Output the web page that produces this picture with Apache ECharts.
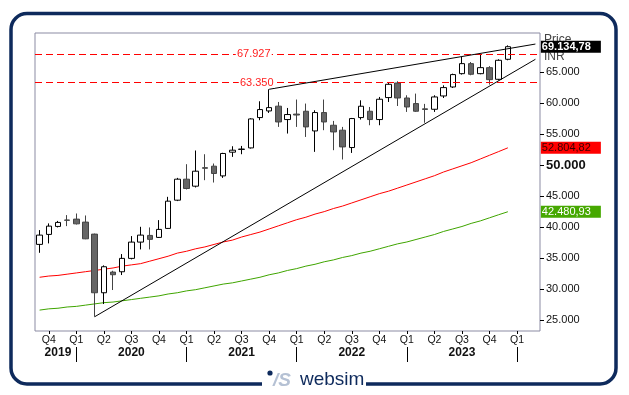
<!DOCTYPE html>
<html><head><meta charset="utf-8">
<script src="https://cdn.jsdelivr.net/npm/echarts@6/dist/echarts.min.js"></script>
<style>html,body{margin:0;padding:0;background:#fff}#c{width:629px;height:395px}</style>
</head><body><div id="c"></div>
<script>
const months = [
 '2019-09','2019-10','2019-11','2019-12',
 '2020-01','2020-02','2020-03','2020-04','2020-05','2020-06','2020-07','2020-08','2020-09','2020-10','2020-11','2020-12',
 '2021-01','2021-02','2021-03','2021-04','2021-05','2021-06','2021-07','2021-08','2021-09','2021-10','2021-11','2021-12',
 '2022-01','2022-02','2022-03','2022-04','2022-05','2022-06','2022-07','2022-08','2022-09','2022-10','2022-11','2022-12',
 '2023-01','2023-02','2023-03','2023-04','2023-05','2023-06','2023-07','2023-08','2023-09','2023-10','2023-11','2023-12',
 '2024-01','2024-02','2024-03'
];
const opens  = [37210,38820,40110,41150,41290,40810,38870,29400,32740,32790,34950,37580,38660,38340,39790,44350,47740,46610,49600,49840,48270,52100,52550,52790,57690,58760,59530,57370,58250,58710,55530,58500,56450,55650,52850,57690,58710,57370,60920,63270,60850,59950,59100,59030,61180,62630,64780,66400,64780,65750,63870,67100];
const closes = [38710,40160,40760,41100,40530,38110,29400,33600,32310,34950,37580,38710,38020,39630,44190,47740,46240,49030,49500,48660,51890,52420,52600,57470,58980,59300,56980,58180,58100,56180,58500,56980,55370,52950,57530,59520,57370,60650,63060,60850,59400,58710,59000,61020,62530,64630,66400,64680,65750,63810,66940,69134.78];
const lows   = [35850,37370,39950,40160,40420,38050,25530,27580,29840,32260,34790,36400,36400,38250,39700,44200,46080,46400,47580,47200,47950,51340,51770,52690,57260,58440,56180,55110,56180,54560,52150,55650,52420,50920,51980,57370,56450,56450,60210,59560,58600,58600,56850,58600,60850,62470,64630,64520,64680,63010,63710,66940];
const highs  = [39520,40600,41000,41940,42200,41880,38950,33820,32950,35650,38550,40050,39950,41130,44890,47950,50160,52370,51770,50270,52000,53060,53110,57580,60320,62260,60210,59240,60600,59950,58870,60600,57150,56180,57630,60480,59400,61020,63270,63550,61290,61560,59900,61290,62900,64780,67470,66660,67900,66000,67100,69350];
const maRed   = [31900,32100,32200,32400,32600,32800,33000,33200,33400,33700,33900,34100,34500,34900,35300,35800,36100,36500,36800,37200,37600,37900,38400,38800,39200,39700,40200,40700,41200,41600,42100,42500,43000,43400,43900,44400,44900,45400,45800,46300,46800,47300,47800,48300,48900,49400,49900,50400,51000,51600,52200,52804.82];
const maGreen = [26600,26800,26900,27100,27200,27400,27600,27800,27900,28100,28300,28500,28700,28900,29200,29400,29700,29900,30200,30500,30800,31000,31300,31600,31900,32300,32600,33000,33300,33700,34000,34400,34700,35100,35400,35800,36100,36500,36900,37300,37600,38000,38400,38800,39300,39700,40100,40600,41000,41500,42000,42480.93];
const yTicks = [25000,30000,35000,40000,45000,50000,55000,60000,65000];
const levels = [67927, 63350];
const levelLabelMonth = '2021-08';
const upperTrend = [['2021-10', 62260], ['2024-03', 69560]];
const lowerTrend = [['2020-03', 25530], ['2024-03', 67100]];
const yearLabelMonths = ['2019-11','2020-07','2021-07','2022-07','2023-07'];

const NAVY = '#0e2a5c';
const FONT = '"Liberation Sans", Arial, sans-serif';
function fmtInt(v){ return String(Math.round(v)).replace(/\B(?=(\d{3})+(?!\d))/g,'.'); }
function fmtDec(v){ const p = v.toFixed(2).split('.'); return fmtInt(+p[0]) + ',' + p[1]; }
function isQ(v){ const m = +v.slice(5); return m===1||m===4||m===7||m===10; }

const candles = opens.map((o,i)=>[o, closes[i], lows[i], highs[i]]);
const lastIdx = closes.length - 1;

function boxPoint(val, bg, fg){
  return {
    coord: [months[lastIdx], val],
    symbol: 'rect', symbolSize: [60, 12], symbolOffset: [63, 0],
    itemStyle: {color: bg},
    label: {show: true, position: 'insideLeft', distance: 1, formatter: fmtDec(val), color: fg, fontSize: 11, fontFamily: FONT, fontWeight: bg==='#000000'?'bold':'normal'}
  };
}
function levelPoint(val, dx){
  return {
    coord: [levelLabelMonth, val],
    symbol: 'rect', symbolSize: [36, 11], symbolOffset: [dx, 0],
    itemStyle: {color: '#ffffff'},
    label: {show: true, position: 'inside', formatter: fmtInt(val), color: '#ff2020', fontSize: 11, fontFamily: FONT}
  };
}

const chart = echarts.init(document.getElementById('c'), null, {renderer: 'canvas'});
chart.setOption({
  animation: false,
  backgroundColor: '#ffffff',
  grid: {left: 35, right: 89, top: 33, bottom: 64, show: true, borderColor: '#8b8ba3', borderWidth: 1, backgroundColor: 'transparent', containLabel: false},
  xAxis: [{
    type: 'category', data: months, boundaryGap: true,
    axisLine: {show: false},
    axisTick: {show: true, alignWithLabel: true, length: 3, interval: (i,v)=>isQ(v), lineStyle: {color: '#000'}},
    axisLabel: {interval: (i,v)=>isQ(v), formatter: v=>'Q'+((+v.slice(5)+2)/3), margin: 4, fontSize: 10.5, color: '#111', fontFamily: FONT},
    splitLine: {show: false}
  },{
    type: 'category', data: months, boundaryGap: true, position: 'bottom', offset: 16,
    axisLine: {show: false},
    axisTick: {show: true, alignWithLabel: true, length: 15, interval: (i,v)=>v.endsWith('-01'), lineStyle: {color: '#000', width: 1}},
    axisLabel: {interval: (i,v)=>yearLabelMonths.includes(v), formatter: v=>v.slice(0,4), margin: 0, fontSize: 12, fontWeight: 'bold', color: '#111', fontFamily: FONT},
    splitLine: {show: false}
  }],
  yAxis: {
    type: 'value', position: 'right', min: 23224, max: 71346,
    splitLine: {show: false}, axisLine: {show: false},
    axisTick: {show: true, length: 4, customValues: yTicks, lineStyle: {color: '#000'}},
    axisLabel: {customValues: yTicks, margin: 6, fontSize: 11, color: '#111', fontFamily: FONT,
      formatter: v => v===50000 ? '{b|'+fmtInt(v)+'}' : fmtInt(v),
      rich: {b: {fontSize: 13, fontWeight: 'bold', color: '#111', fontFamily: FONT}}},
    name: 'Price\nINR', nameLocation: 'end', nameGap: 2,
    nameTextStyle: {align: 'left', verticalAlign: 'top', padding: [0,0,0,4], lineHeight: 17, fontSize: 12, color: '#444', fontFamily: FONT}
  },
  series: [{
    type: 'line', data: maRed, symbol: 'none', lineStyle: {color: '#ff0000', width: 1}, z: 3,
    markPoint: {data: [boxPoint(maRed[lastIdx], '#ff0000', '#3a0000')]}
  },{
    type: 'line', data: maGreen, symbol: 'none', lineStyle: {color: '#3fa500', width: 1}, z: 3,
    markPoint: {data: [boxPoint(maGreen[lastIdx], '#46a800', '#ffffff')]}
  },{
    type: 'candlestick', data: candles, barWidth: 6, z: 4,
    itemStyle: {color: '#ffffff', color0: '#666666', borderColor: '#000000', borderColor0: '#444444', borderWidth: 1},
    markLine: {
      silent: true, symbol: ['none','none'], label: {show: false},
      data: [
        {yAxis: levels[0], lineStyle: {color: '#ff0000', type: [7,4], width: 1}},
        {yAxis: levels[1], lineStyle: {color: '#ff0000', type: [7,4], width: 1}},
        [{coord: upperTrend[0], lineStyle: {color: '#000', type: 'solid', width: 1}}, {coord: upperTrend[1]}],
        [{coord: lowerTrend[0], lineStyle: {color: '#000', type: 'solid', width: 1}}, {coord: lowerTrend[1]}]
      ]
    },
    markPoint: {data: [levelPoint(levels[0], 3), levelPoint(levels[1], 6), boxPoint(closes[lastIdx], '#000000', '#ffffff')]}
  }],
  graphic: [
    {type: 'rect', shape: {x: 11, y: 13.5, width: 605, height: 370.5, r: 16}, style: {fill: 'none', stroke: NAVY, lineWidth: 3.5}, z: 100},
    {type: 'rect', shape: {x: 262, y: 374, width: 104, height: 18}, style: {fill: '#ffffff'}, z: 101},
    {type: 'circle', shape: {cx: 270, cy: 373, r: 2.6}, style: {fill: NAVY}, z: 102},
    {type: 'text', x: 273, y: 371, style: {text: '/S', font: 'italic bold 19px "Liberation Sans"', fill: '#b5c1d4'}, z: 102},
    {type: 'text', x: 300, y: 370, style: {text: 'websim', font: '19px "Liberation Sans"', fill: NAVY}, z: 102}
  ]
});
</script></body></html>
